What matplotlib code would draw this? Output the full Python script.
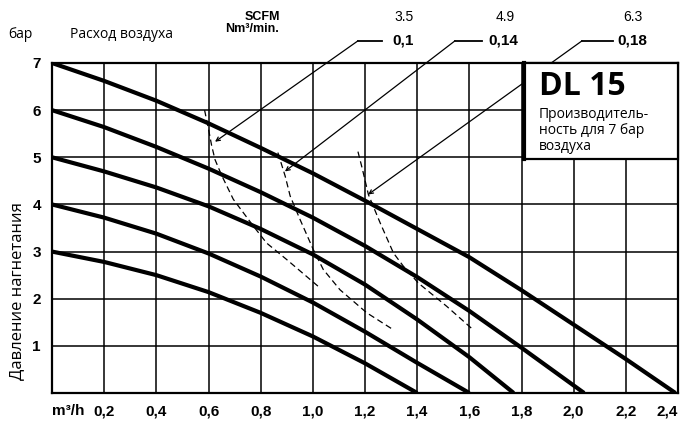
import matplotlib
matplotlib.use('Agg')
import matplotlib.pyplot as plt
from matplotlib.patches import Rectangle

# solid curves: outlet pressure 7..3 bar vs air flow m3/h
p7_x = [0, 0.2, 0.4, 0.6, 0.8, 1.0, 1.2, 1.4, 1.6, 1.8, 2.0, 2.2, 2.39]
p7_y = [7, 6.62, 6.2, 5.72, 5.2, 4.66, 4.08, 3.48, 2.88, 2.18, 1.45, 0.72, 0]
p6_x = [0, 0.2, 0.4, 0.6, 0.8, 1.0, 1.2, 1.4, 1.6, 1.8, 2.04]
p6_y = [6, 5.64, 5.22, 4.76, 4.26, 3.72, 3.12, 2.46, 1.74, 0.96, 0]
p5_x = [0, 0.2, 0.4, 0.6, 0.8, 1.0, 1.2, 1.4, 1.6, 1.77]
p5_y = [5, 4.70, 4.36, 3.96, 3.48, 2.94, 2.3, 1.56, 0.76, 0]
p4_x = [0, 0.2, 0.4, 0.6, 0.8, 1.0, 1.2, 1.4, 1.6]
p4_y = [4, 3.72, 3.38, 2.96, 2.47, 1.92, 1.3, 0.64, 0]
p3_x = [0, 0.2, 0.4, 0.6, 0.8, 1.0, 1.2, 1.4]
p3_y = [3, 2.78, 2.5, 2.14, 1.7, 1.2, 0.63, 0]

# dashed air consumption curves (0,1 / 0,14 / 0,18 Nm3/min)
d1_x = [0.585, 0.60, 0.612, 0.625, 0.651, 0.695, 0.772, 0.823, 0.900, 1.021]
d1_y = [6.0, 5.6, 5.25, 4.95, 4.61, 4.11, 3.54, 3.18, 2.83, 2.26]
d2_x = [0.866, 0.88, 0.894, 0.913, 0.951, 1.002, 1.040, 1.104, 1.207, 1.309]
d2_y = [5.1, 4.85, 4.60, 4.18, 3.68, 3.04, 2.62, 2.19, 1.70, 1.34]
d3_x = [1.173, 1.19, 1.213, 1.258, 1.309, 1.347, 1.405, 1.513, 1.615]
d3_y = [5.12, 4.75, 4.21, 3.61, 2.97, 2.69, 2.33, 1.84, 1.34]

consumption = ['0,1', '0,14', '0,18']
scfm = ['3.5', '4.9', '6.3']

x_ticks = [0.2, 0.4, 0.6, 0.8, 1.0, 1.2, 1.4, 1.6, 1.8, 2.0, 2.2, 2.4]
x_labels = ['0,2', '0,4', '0,6', '0,8', '1,0', '1,2', '1,4', '1,6', '1,8', '2,0', '2,2', '2,4']
y_ticks = [1, 2, 3, 4, 5, 6, 7]

W, H = 681, 424
fig = plt.figure(figsize=(6.81, 4.24), dpi=100)
ax = fig.add_axes([52 / W, 1 - 393 / H, 626 / W, 330 / H])

for xs, ys in [(p7_x, p7_y), (p6_x, p6_y), (p5_x, p5_y), (p4_x, p4_y), (p3_x, p3_y)]:
    ax.plot(xs, ys, color='black', lw=3.0, solid_capstyle='butt', solid_joinstyle='round', zorder=3)

for xs, ys in [(d1_x, d1_y), (d2_x, d2_y), (d3_x, d3_y)]:
    ax.plot(xs, ys, color='black', lw=0.9, ls=(0, (5, 3)), zorder=3)

ax.set_xlim(0, 2.4)
ax.set_ylim(0, 7)
ax.set_xticks(x_ticks)
ax.set_xticklabels(x_labels)
ax.set_yticks(y_ticks)
ax.grid(True, color='black', lw=1.1)
ax.tick_params(length=0, pad=8)
bold = dict(family=['Liberation Sans Narrow', 'Liberation Sans'], weight='bold', size=11)
for lab in ax.get_xticklabels() + ax.get_yticklabels():
    lab.set_fontproperties(matplotlib.font_manager.FontProperties(**bold))
ax.get_xticklabels()[-1].set_horizontalalignment('right')
for s in ax.spines.values():
    s.set_linewidth(1.6)

# leader lines from the consumption labels to the dashed curves
lead_y = 7.47
lead_start = [1.173, 1.545, 2.032]
lead_end = [1.265, 1.649, 2.151]
tip_x = [0.625, 0.893, 1.212]
tip_y = [5.33, 4.70, 4.21]
text_x = [1.305, 1.672, 2.166]
scfm_x = [1.35, 1.737, 2.228]
for i in range(3):
    ax.plot([lead_start[i], lead_end[i]], [lead_y, lead_y], color='black', lw=1.3, clip_on=False)
    ax.annotate('', xy=(tip_x[i], tip_y[i]), xytext=(lead_start[i], lead_y),
                arrowprops=dict(arrowstyle='->', lw=0.9, color='black', shrinkA=0, shrinkB=0,
                                mutation_scale=7),
                annotation_clip=False, zorder=4)
    ax.text(text_x[i], lead_y, consumption[i], ha='left', va='center', clip_on=False, **bold)
    ax.text(scfm_x[i], 7.98, scfm[i], ha='center', va='center', clip_on=False,
            family='Liberation Sans', size=10)

fig.text(262 / W, 1 - 17 / H, 'SCFM', ha='center', va='center',
         family='Liberation Sans', weight='bold', size=9)
fig.text(252 / W, 1 - 29.5 / H, 'Nm³/min.', ha='center', va='center',
         family='Liberation Sans', weight='bold', size=9)

# DL 15 box
ax.add_patch(Rectangle((1.81, 4.96), 0.59, 2.04, facecolor='white', edgecolor='black',
                       lw=1.6, zorder=5, clip_on=False))
ax.plot([1.81, 1.81], [4.96, 7.0], color='black', lw=3, zorder=6, clip_on=False)
ax.text(1.866, 6.51, 'DL 15', ha='left', va='center', family='Open Sans', weight='bold',
        size=23, zorder=7)
ax.text(1.866, 5.57, 'Производитель-\nность для 7 бар\nвоздуха', ha='left', va='center',
        family='Open Sans', size=10, linespacing=1.12, zorder=7)

fig.text(8 / W, 1 - 35 / H, 'бар', ha='left', va='center', family='Open Sans', size=10)
fig.text(70 / W, 1 - 35 / H, 'Расход воздуха', ha='left', va='center', family='Open Sans', size=10)
fig.text(68 / W, 1 - 411 / H, 'm³/h', ha='center', va='center', **bold)
fig.text(17 / W, 1 - 291 / H, 'Давление нагнетания', rotation=90, ha='center', va='center',
         family='Open Sans', size=12)

fig.savefig('out.png', dpi=100)
